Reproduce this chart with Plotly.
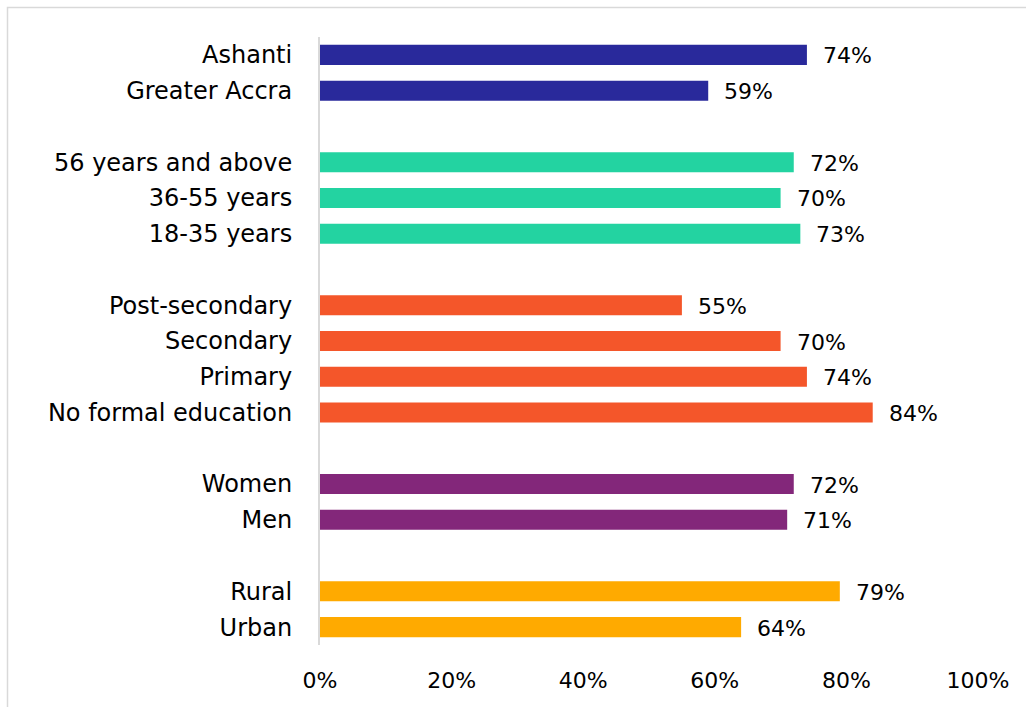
import plotly.graph_objects as go

# Categories listed top to bottom, grouped
categories = [
    "Ashanti", "Greater Accra",
    "56 years and above", "36-55 years", "18-35 years",
    "Post-secondary", "Secondary", "Primary", "No formal education",
    "Women", "Men",
    "Rural", "Urban",
]
values = [74, 59, 72, 70, 73, 55, 70, 74, 84, 72, 71, 79, 64]
group_sizes = [2, 3, 4, 2, 2]
group_colors = ["#29299B", "#23D3A1", "#F4562A", "#83277A", "#FFAA00"]
x_ticks = [0, 20, 40, 60, 80, 100]

# Row positions: one blank row between groups
rows, colors = [], []
r = 0
for size, col in zip(group_sizes, group_colors):
    for _ in range(size):
        rows.append(r)
        colors.append(col)
        r += 1
    r += 1
n_rows = r - 1

FONT = "DejaVu Sans"
FS = 22
FS_CAT = 24

fig = go.Figure()
fig.add_trace(go.Bar(
    x=values, y=rows, orientation="h",
    marker=dict(color=colors, line=dict(width=0)),
    width=0.56, hoverinfo="skip",
))

for v, yr in zip(values, rows):
    fig.add_annotation(
        x=v, y=yr, text=f"{v}%", showarrow=False,
        xanchor="left", xshift=14, yshift=-1,
        font=dict(family=FONT, size=FS, color="#000000"),
    )

# outer frame
W, H = 1026, 707
L, R, T, B = 320, 48, 37, 62
pw, ph = W - L - R, H - T - B
fig.add_shape(
    type="rect", xref="paper", yref="paper",
    x0=(7.5 - L) / pw, x1=(W + 5 - L) / pw,
    y0=-(B + 5) / ph, y1=(H - B - 7.5) / ph,
    line=dict(color="#d9d9d9", width=1.5), fillcolor="rgba(0,0,0,0)", layer="below",
)

fig.update_layout(
    width=W, height=H,
    margin=dict(l=L, r=R, t=T, b=B),
    paper_bgcolor="white", plot_bgcolor="white",
    showlegend=False,
    font=dict(family=FONT, size=FS, color="#000000"),
    xaxis=dict(
        range=[0, 100], tickvals=x_ticks,
        ticktext=[f"{t}%" for t in x_ticks],
        showgrid=False, zeroline=False, showline=False,
        ticks="outside", ticklen=16, tickcolor="rgba(0,0,0,0)",
        tickfont=dict(family=FONT, size=FS, color="#000000"),
    ),
    yaxis=dict(
        range=[n_rows - 0.5, -0.5], tickvals=rows, ticktext=categories,
        showgrid=False, zeroline=False,
        showline=True, linecolor="#d9d9d9", linewidth=2,
        ticks="outside", ticklen=21, tickcolor="rgba(0,0,0,0)",
        tickfont=dict(family=FONT, size=FS_CAT, color="#000000"),
    ),
)

fig.write_html("out.html")
